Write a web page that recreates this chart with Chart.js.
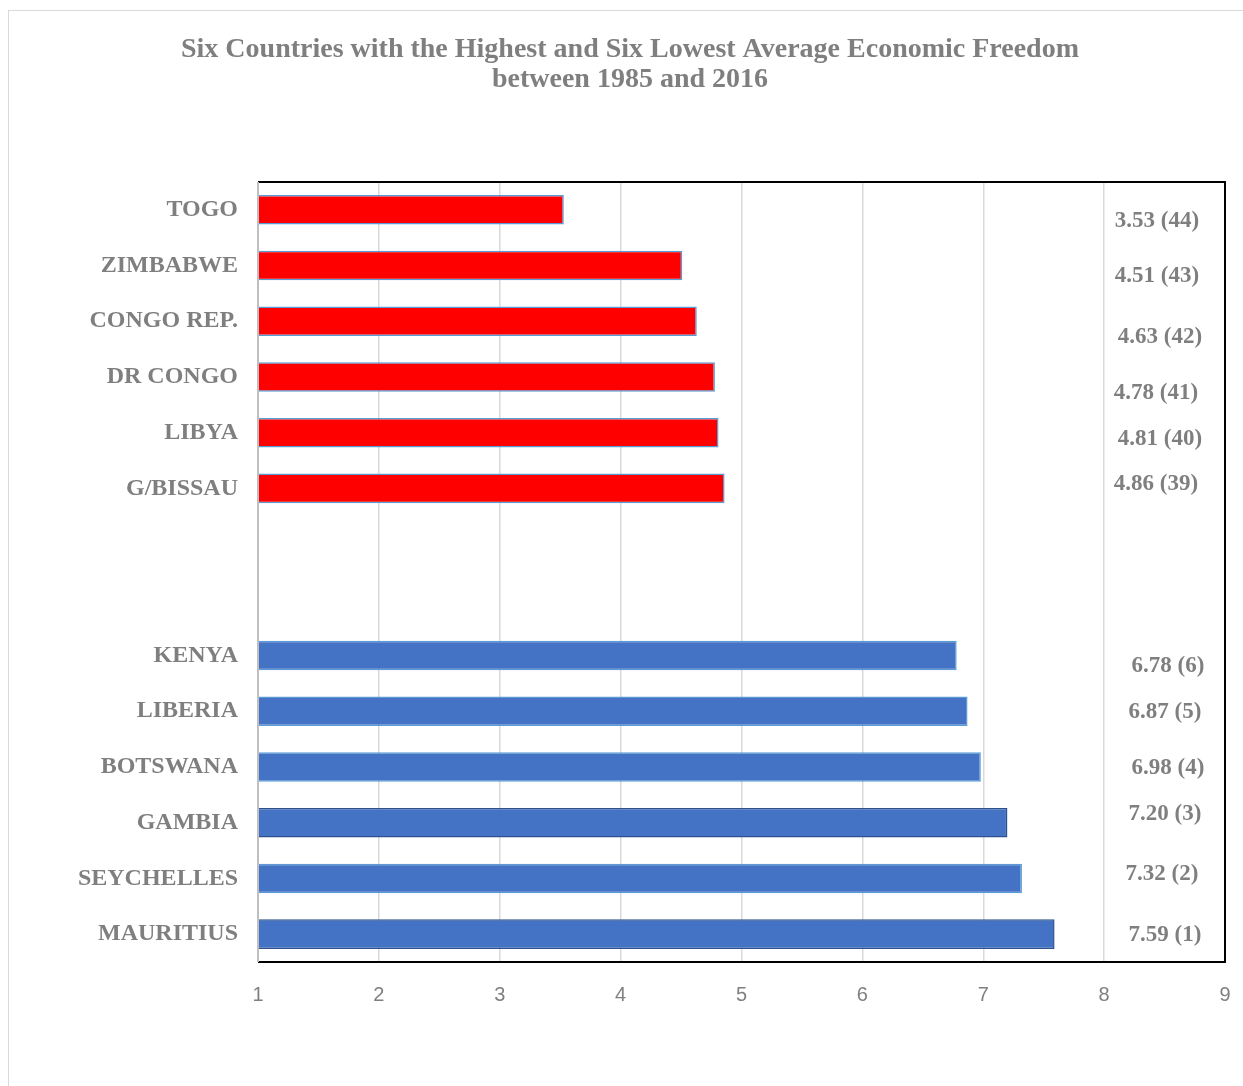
<!DOCTYPE html>
<html>
<head>
    <title>Economic Freedom - Six Highest and Six Lowest</title>
    <script src="https://cdn.jsdelivr.net/npm/chart.js@4.4.0/dist/chart.umd.min.js"></script>
    <style>
        body {
            margin: 0;
            background: #ffffff;
            overflow: hidden;
        }
        .frame {
            position: absolute;
            left: 8px;
            top: 10px;
            width: 1300px;
            height: 1200px;
            border: 1px solid #d9d9d9;
        }
        .chart-box {
            position: absolute;
            left: 0;
            top: 0;
            width: 1243px;
            height: 1086px;
        }
    </style>
</head>
<body>
    <div class="frame"></div>
    <div class="chart-box">
        <canvas id="freedomChart" width="1243" height="1086"></canvas>
    </div>

    <script>
        // categories top to bottom, two blank rows separate the groups
        const countries = ['TOGO', 'ZIMBABWE', 'CONGO REP.', 'DR CONGO', 'LIBYA', 'G/BISSAU',
            '', '',
            'KENYA', 'LIBERIA', 'BOTSWANA', 'GAMBIA', 'SEYCHELLES', 'MAURITIUS'];
        const scores = [3.53, 4.51, 4.63, 4.78, 4.81, 4.86, null, null, 6.78, 6.87, 6.98, 7.20, 7.32, 7.59];
        const ranks = [44, 43, 42, 41, 40, 39, null, null, 6, 5, 4, 3, 2, 1];
        const xTicks = [1, 2, 3, 4, 5, 6, 7, 8, 9];

        // bar styling (lowest group red, highest group blue)
        const fillColors = ['#ff0000', '#ff0000', '#ff0000', '#ff0000', '#ff0000', '#ff0000', null, null,
            '#4472c4', '#4472c4', '#4472c4', '#4472c4', '#4472c4', '#4472c4'];
        const edgeColors = ['#5b9bd5', '#5b9bd5', '#5b9bd5', '#5b9bd5', '#5b9bd5', '#5b9bd5', null, null,
            '#5b9bd5', '#5b9bd5', '#5b9bd5', '#2f528f', '#5b9bd5', '#2f528f'];

        // hand placed text boxes in the original, nudged off the bar centres
        const labelDx = [-3, -3, 0, -4, 0, -4, 0, 0, 8, 5, 8, 5, 2, 5];
        const labelDy = [11, 11, 16, 16, 6, -4, 0, 0, 11, 1, 1, -9, -4, 1];

        const grey = '#7f7f7f';
        const serif = '"Liberation Serif", "Times New Roman", serif';

        const valueLabels = {
            id: 'valueLabels',
            afterDatasetsDraw(chart) {
                const ctx = chart.ctx;
                const yScale = chart.scales.y;
                ctx.save();
                ctx.font = 'bold 23px ' + serif;
                ctx.fillStyle = grey;
                ctx.textAlign = 'center';
                ctx.textBaseline = 'middle';
                scores.forEach((v, i) => {
                    if (v === null) return;
                    const y = yScale.getPixelForValue(i) + labelDy[i];
                    ctx.fillText(v.toFixed(2) + ' (' + ranks[i] + ')', 1160 + labelDx[i], y);
                });
                ctx.restore();
            }
        };

        const plotFrame = {
            id: 'plotFrame',
            afterDraw(chart) {
                const a = chart.chartArea;
                const ctx = chart.ctx;
                ctx.save();
                ctx.lineWidth = 2;
                ctx.strokeStyle = '#000000';
                ctx.beginPath();
                ctx.moveTo(a.left, a.top);
                ctx.lineTo(a.right, a.top);
                ctx.lineTo(a.right, a.bottom);
                ctx.lineTo(a.left, a.bottom);
                ctx.stroke();
                ctx.strokeStyle = '#bfbfbf';
                ctx.beginPath();
                ctx.moveTo(a.left, a.top);
                ctx.lineTo(a.left, a.bottom);
                ctx.stroke();
                ctx.restore();
            }
        };

        const ctx = document.getElementById('freedomChart').getContext('2d');
        new Chart(ctx, {
            type: 'bar',
            data: {
                labels: countries,
                datasets: [{
                    data: scores,
                    base: 1,
                    backgroundColor: fillColors,
                    borderColor: edgeColors,
                    borderWidth: 1.5,
                    barPercentage: 0.53,
                    categoryPercentage: 1
                }]
            },
            options: {
                indexAxis: 'y',
                responsive: false,
                animation: false,
                layout: { padding: { left: 35, right: 18, top: 0, bottom: 0 } },
                plugins: {
                    legend: { display: false },
                    tooltip: { enabled: false },
                    title: {
                        display: true,
                        text: ['Six Countries with the Highest and Six Lowest Average Economic Freedom',
                            'between 1985 and 2016'],
                        color: grey,
                        font: { family: serif, size: 28, weight: 'bold', lineHeight: 1.07 },
                        padding: { top: 35, bottom: 87 }
                    }
                },
                scales: {
                    x: {
                        min: 1,
                        max: 9,
                        afterBuildTicks(scale) {
                            scale.ticks = xTicks.map(v => ({ value: v }));
                        },
                        afterFit(scale) {
                            scale.height = 124;
                            scale.paddingLeft = 0;
                            scale.paddingRight = 0;
                        },
                        grid: {
                            color: '#d9d9d9',
                            lineWidth: 1.5,
                            drawTicks: false
                        },
                        border: { display: false },
                        ticks: {
                            color: grey,
                            padding: 21,
                            font: { family: '"Liberation Sans", Arial, sans-serif', size: 20 }
                        }
                    },
                    y: {
                        afterFit(scale) {
                            scale.width = 223;
                        },
                        grid: { display: false, drawTicks: false },
                        border: { display: false },
                        ticks: {
                            color: grey,
                            padding: 20,
                            autoSkip: false,
                            font: { family: serif, size: 24, weight: 'bold' }
                        }
                    }
                }
            },
            plugins: [valueLabels, plotFrame]
        });
    </script>
</body>
</html>
